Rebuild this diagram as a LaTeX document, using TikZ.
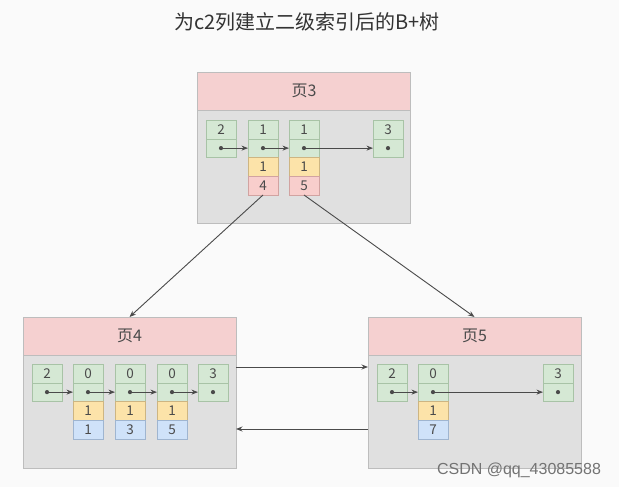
\documentclass[tikz,border=0pt]{standalone}
\usepackage{fontspec}
\setmainfont{Noto Sans CJK SC}
\newfontfamily\markfont{Liberation Sans}
\usetikzlibrary{positioning,arrows.meta}

\definecolor{paper}{HTML}{FAFAFA}
\definecolor{inkgray}{HTML}{4A4A4A}
\definecolor{pagegray}{HTML}{E0E0E0}
\definecolor{pageline}{HTML}{BDBDBD}
\definecolor{headpink}{HTML}{F5D0D0}
\definecolor{keygreen}{HTML}{D5E8D4}
\definecolor{keyline}{HTML}{A8C3A6}
\definecolor{c2yellow}{HTML}{FCE3A9}
\definecolor{c2line}{HTML}{CDB582}
\definecolor{pkpink}{HTML}{F8CECC}
\definecolor{pkline}{HTML}{D1A3A1}
\definecolor{pkblue}{HTML}{CFE2F9}
\definecolor{pkblueline}{HTML}{9FB5D0}

\begin{document}
\begin{tikzpicture}[
        x=1pt, y=-1pt,
        every node/.style={inner sep=0pt, outer sep=0pt, text=inkgray},
        pagebody/.style={draw=pageline, fill=pagegray, minimum width=213pt, minimum height=151pt, anchor=north west},
        pagehead/.style={draw=pageline, fill=headpink, minimum width=213pt, minimum height=38pt, anchor=north west, font=\fontsize{16}{18}\selectfont},
        cellbox/.style={minimum width=30pt, minimum height=18.75pt, font=\fontsize{13.5}{15}\selectfont},
        keycell/.style={cellbox, draw=keyline, fill=keygreen},
        ptrcell/.style={cellbox, draw=keyline, fill=keygreen},
        c2cell/.style={cellbox, draw=c2line, fill=c2yellow},
        pgcell/.style={cellbox, draw=pkline, fill=pkpink},
        idcell/.style={cellbox, draw=pkblueline, fill=pkblue},
        arrow/.style={->, >={Stealth[length=6.5pt, width=5pt]}, draw=inkgray, line width=0.9pt},
        dot/.style={fill=inkgray}
        ]

        \fill[paper] (0,0) rectangle (619,487);
        \useasboundingbox (0,0) rectangle (619,487);

        \node[font=\fontsize{20}{22}\selectfont, text=black!80] (title) at (307,22) {为c2列建立二级索引后的B+树};

        % page 3 (root)
        \node[pagebody] (p3) at (197.5,72) {};
        \node[pagehead] (p3h) at (197.5,72) {页3};
        \node[keycell, anchor=north west] (p3a1) at (206,120) {2};
        \node[ptrcell, below=0pt of p3a1] (p3a2) {};
        \node[keycell, anchor=north west] (p3b1) at (248,120) {1};
        \node[ptrcell, below=0pt of p3b1] (p3b2) {};
        \node[c2cell, below=0pt of p3b2] (p3b3) {1};
        \node[pgcell, below=0pt of p3b3] (p3b4) {4};
        \node[keycell, anchor=north west] (p3c1) at (289,120) {1};
        \node[ptrcell, below=0pt of p3c1] (p3c2) {};
        \node[c2cell, below=0pt of p3c2] (p3c3) {1};
        \node[pgcell, below=0pt of p3c3] (p3c4) {5};
        \node[keycell, anchor=north west] (p3d1) at (373,120) {3};
        \node[ptrcell, below=0pt of p3d1] (p3d2) {};

        % page 4 (leaf)
        \node[pagebody] (p4) at (23,317) {};
        \node[pagehead] (p4h) at (23,317) {页4};
        \node[keycell, anchor=north west] (p4a1) at (32,364) {2};
        \node[ptrcell, below=0pt of p4a1] (p4a2) {};
        \foreach \k/\x/\id in {b/73/1, c/115/3, d/157/5} {
            \node[keycell, anchor=north west] (p4\k1) at (\x,364) {0};
            \node[ptrcell, below=0pt of p4\k1] (p4\k2) {};
            \node[c2cell, below=0pt of p4\k2] (p4\k3) {1};
            \node[idcell, below=0pt of p4\k3] (p4\k4) {\id};
        }
        \node[keycell, anchor=north west] (p4e1) at (198,364) {3};
        \node[ptrcell, below=0pt of p4e1] (p4e2) {};

        % page 5 (leaf)
        \node[pagebody] (p5) at (368,317) {};
        \node[pagehead] (p5h) at (368,317) {页5};
        \node[keycell, anchor=north west] (p5a1) at (377,364) {2};
        \node[ptrcell, below=0pt of p5a1] (p5a2) {};
        \node[keycell, anchor=north west] (p5b1) at (418,364) {0};
        \node[ptrcell, below=0pt of p5b1] (p5b2) {};
        \node[c2cell, below=0pt of p5b2] (p5b3) {1};
        \node[idcell, below=0pt of p5b3] (p5b4) {7};
        \node[keycell, anchor=north west] (p5c1) at (543,364) {3};
        \node[ptrcell, below=0pt of p5c1] (p5c2) {};

        % record pointers
        \foreach \c in {p3a2, p3b2, p3c2, p3d2, p4a2, p4b2, p4c2, p4d2, p4e2, p5a2, p5b2, p5c2}
            \fill[dot] (\c.center) circle (2.1pt);
        \draw[arrow] (p3a2.center) -- (p3b2.west);
        \draw[arrow] (p3b2.center) -- (p3c2.west);
        \draw[arrow] (p3c2.center) -- (p3d2.west);
        \draw[arrow] (p4a2.center) -- (p4b2.west);
        \draw[arrow] (p4b2.center) -- (p4c2.west);
        \draw[arrow] (p4c2.center) -- (p4d2.west);
        \draw[arrow] (p4d2.center) -- (p4e2.west);
        \draw[arrow] (p5a2.center) -- (p5b2.west);
        \draw[arrow] (p5b2.center) -- (p5c2.west);

        % child pages
        \draw[arrow] (p3b4.south) -- (p4h.north);
        \draw[arrow] (p3c4.south) -- (p5h.north);

        % sibling links
        \draw[arrow] ([yshift=-50pt]p4.north east) -- ([yshift=-50pt]p5.north west);
        \draw[arrow] ([yshift=-112pt]p5.north west) -- ([yshift=-112pt]p4.north east);

        \node[font=\markfont\fontsize{16}{18}\selectfont, text=black!55] (mark) at (519,470) {CSDN @qq\_43085588};
    \end{tikzpicture}
\end{document}
